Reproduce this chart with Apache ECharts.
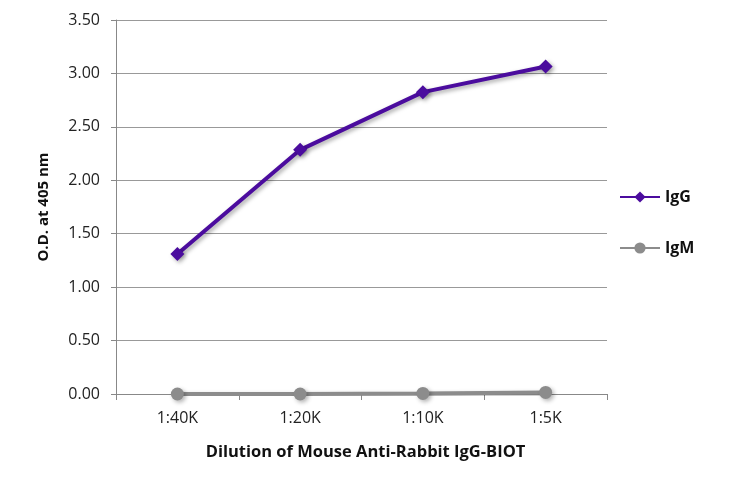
<!DOCTYPE html>
<html>
<head>
<meta charset="utf-8">
<script src="https://cdn.jsdelivr.net/npm/echarts@6/dist/echarts.min.js"></script>
<style>
  html, body { margin: 0; padding: 0; background: #fff; }
  #chart { width: 730px; height: 478px; }
</style>
</head>
<body>
<div id="chart"></div>
<script>
// data
var dilutions = ["1:40K", "1:20K", "1:10K", "1:5K"];
var iggValues = [1.31, 2.285, 2.825, 3.065];
var igmValues = [0.0, 0.0, 0.005, 0.015];

var chart = echarts.init(document.getElementById("chart"));
var txtFont = "'Open Sans', 'Noto Sans', sans-serif";

var opts = {
  animation: false,
  grid: { left: 116, right: 123, top: 20, bottom: 84, containLabel: false },
  legend: {
    orient: "vertical",
    left: 614,
    top: 184,
    itemGap: 35,
    itemWidth: 40,
    itemHeight: 14,
    textStyle: { fontFamily: txtFont, fontWeight: "bold", fontSize: 16, color: "#111" },
    data: ["IgG", "IgM"]
  },
  xAxis: {
    type: "category",
    data: dilutions,
    boundaryGap: true,
    name: "Dilution of Mouse Anti-Rabbit IgG-BIOT",
    nameLocation: "middle",
    nameGap: 50,
    nameTextStyle: { fontFamily: txtFont, fontWeight: "bold", fontSize: 16.5, color: "#111", padding: [0, 0, 0, 8] },
    axisLine: { lineStyle: { color: "#888", width: 1 } },
    axisTick: { show: true, length: 6, lineStyle: { color: "#888" } },
    axisLabel: { fontFamily: txtFont, fontSize: 16, color: "#222", margin: 16 }
  },
  yAxis: {
    type: "value",
    min: 0,
    max: 3.5,
    interval: 0.5,
    name: "O.D. at 405 nm",
    nameLocation: "middle",
    nameGap: 65,
    nameTextStyle: { fontFamily: txtFont, fontWeight: "bold", fontSize: 15, color: "#111" },
    axisLine: { show: true, lineStyle: { color: "#888", width: 1 } },
    axisTick: { show: true, length: 5, lineStyle: { color: "#888" } },
    splitLine: { lineStyle: { color: "#999", width: 1 } },
    axisLabel: {
      fontFamily: txtFont, fontSize: 16, color: "#222", margin: 16,
      formatter: function (v) { return v.toFixed(2); }
    }
  },
  series: [
    {
      name: "IgG",
      type: "line",
      data: iggValues,
      symbol: "diamond",
      symbolSize: 14,
      color: "#4B0C9E",
      lineStyle: { width: 4, color: "#4B0C9E", shadowColor: "rgba(0,0,0,0.35)", shadowBlur: 4, shadowOffsetX: 2, shadowOffsetY: 2 },
      itemStyle: { color: "#4B0C9E", shadowColor: "rgba(0,0,0,0.35)", shadowBlur: 4, shadowOffsetX: 2, shadowOffsetY: 2 },
      z: 3
    },
    {
      name: "IgM",
      type: "line",
      data: igmValues,
      symbol: "circle",
      symbolSize: 13,
      color: "#8C8C8C",
      lineStyle: { width: 4, color: "#8C8C8C", shadowColor: "rgba(0,0,0,0.3)", shadowBlur: 4, shadowOffsetX: 2, shadowOffsetY: 2 },
      itemStyle: { color: "#8C8C8C", shadowColor: "rgba(0,0,0,0.3)", shadowBlur: 4, shadowOffsetX: 2, shadowOffsetY: 2 },
      z: 2
    }
  ]
};

chart.setOption(opts);
</script>
</body>
</html>
